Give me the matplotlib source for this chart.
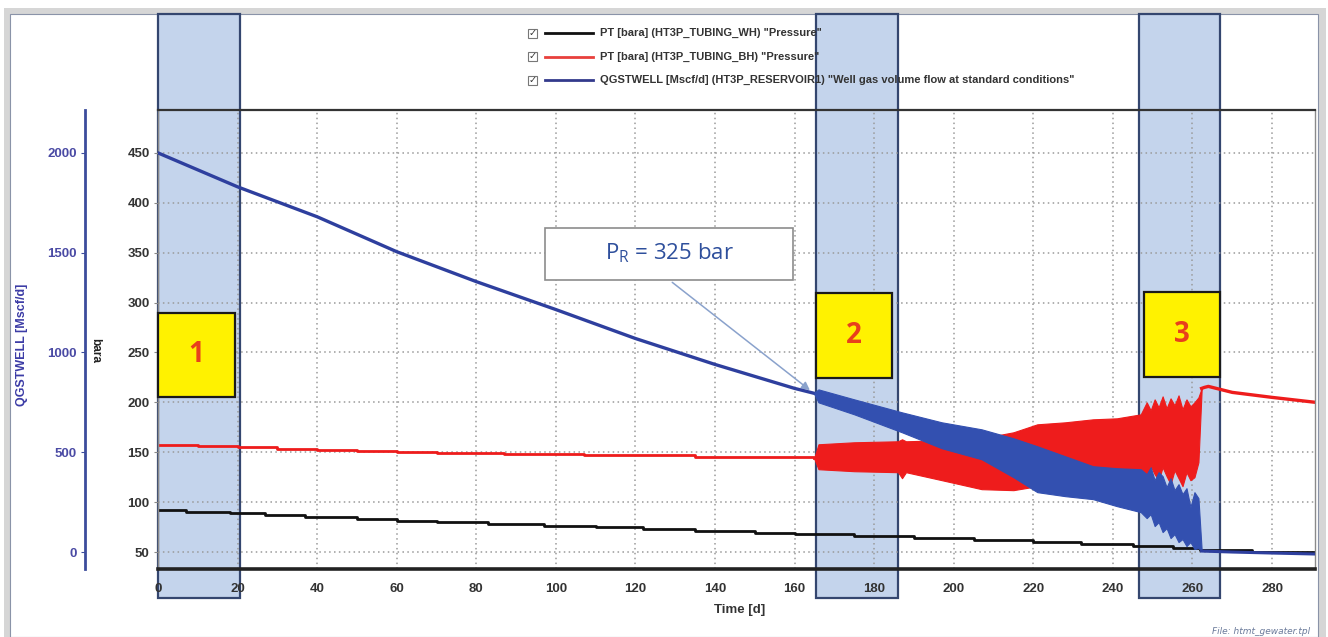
import matplotlib
matplotlib.use("Agg")
import matplotlib.pyplot as plt
from matplotlib.patches import Rectangle
from matplotlib.lines import Line2D
from matplotlib.transforms import blended_transform_factory

# wellhead tubing pressure [bara]
t_wh = [0, 7, 18, 27, 37, 50, 60, 70, 83, 97, 110, 122, 135, 150, 160, 175,
        190, 205, 220, 232, 245, 255, 262, 275, 291]
p_wh = [92, 90, 89, 87, 85, 83, 81, 80, 78, 76, 75, 73, 71, 69, 68, 66,
        64, 62, 60, 58, 56, 54, 52, 50, 48]

# bottomhole tubing pressure [bara], steady part
t_bh = [0, 10, 20, 30, 40, 50, 60, 70, 87, 107, 135, 150, 165]
p_bh = [157, 156, 155, 153, 152, 151, 150, 149, 148, 147, 145, 145, 144]
# bottomhole pressure, oscillating part (upper / lower envelope)
t_bh_osc = [165, 166, 175, 186, 187, 188, 197, 207, 215, 221, 228, 235, 241,
            247, 248.5, 249.5, 250.5, 251.5, 252.5, 253.5, 254.5, 255.5,
            256.5, 257.5, 258.5, 259.5, 260.5, 261.5, 262.3]
p_bh_hi = [145, 158, 160, 161, 163, 161, 162, 164, 170, 178, 180, 183, 184,
           188, 200, 192, 203, 195, 206, 194, 204, 197, 207, 193, 203, 196,
           200, 205, 214]
p_bh_lo = [143, 133, 131, 130, 124, 130, 122, 113, 112, 116, 120, 128, 130,
           133, 124, 136, 128, 122, 135, 126, 118, 132, 124, 116, 130, 122,
           125, 140, 212]
# bottomhole pressure after the well dies
t_bh_end = [262.3, 263, 264, 270, 280, 291]
p_bh_end = [214, 215, 216, 210, 205, 200]

# gas rate [Mscf/d]
t_q = [0, 20, 40, 60, 80, 100, 120, 140, 160, 165]
q_gas = [2000, 1830, 1680, 1505, 1355, 1215, 1070, 940, 820, 795]
t_q_osc = [165, 166, 175, 187, 197, 207, 215, 221, 228, 235, 241, 247, 248.5,
           249.5, 250.5, 251.5, 252.5, 253.5, 254.5, 255.5, 256.5, 257.5,
           258.5, 259.5, 260.5, 261.5, 262.3]
q_hi = [800, 815, 765, 700, 650, 615, 570, 530, 480, 430, 420, 415, 390, 425,
        360, 400, 380, 325, 370, 310, 340, 290, 320, 225, 300, 270, 15]
q_lo = [790, 750, 690, 600, 520, 465, 375, 300, 280, 265, 230, 200, 170, 190,
        130, 150, 100, 120, 70, 90, 50, 65, 30, 50, 15, 20, 5]
t_q_end = [262.3, 270, 280, 291]
q_end = [5, 0, -5, -10]

# highlighted periods [d] and their labels
periods = [(0, 20.6), (165.4, 186.0), (246.5, 266.9)]
period_labels = ["1", "2", "3"]
label_boxes = [(0, 19.4, 205, 290), (165.4, 184.5, 224, 310), (247.8, 266.9, 225, 311)]

legend_labels = ['PT [bara] (HT3P_TUBING_WH) "Pressure"',
                 'PT [bara] (HT3P_TUBING_BH) "Pressure"',
                 'QGSTWELL [Mscf/d] (HT3P_RESERVOIR1) "Well gas volume flow at standard conditions"']
legend_colors = ["#111111", "#e8403c", "#333a8c"]

W, H = 1328, 637
SANS = ["Liberation Sans", "DejaVu Sans"]


def fx(px):
    return px / W


def fy(py):
    return 1 - py / H


fig = plt.figure(figsize=(W / 100, H / 100), dpi=100)

# outer grey frame
fig.patches.append(Rectangle((fx(4), 0), fx(1326) - fx(4), fy(8), transform=fig.transFigure,
                             fc="#d6d6d6", ec="none", zorder=-3))
fig.patches.append(Rectangle((fx(10), 0), fx(1318) - fx(10), fy(14), transform=fig.transFigure,
                             fc="white", ec="#8a93a8", lw=0.8, zorder=-2))

ax = fig.add_axes([fx(158), fy(569), fx(1315) - fx(158), fy(110) - fy(569)])
ax.set_xlim(0, 290.8)
ax.set_ylim(33, 493)
ax.set_facecolor("none")

ax.set_xticks(range(0, 281, 20))
ax.set_yticks(range(50, 451, 50))
ax.grid(True, color="#9a9a9a", ls=(0, (1, 2.2)), lw=1.1)
ax.tick_params(axis="x", length=0, pad=10, labelsize=9.5, labelcolor="#333333")
ax.tick_params(axis="y", length=3, pad=3, labelsize=9.5, labelcolor="#333333", color="#888888")
for lab in ax.get_xticklabels() + ax.get_yticklabels():
    lab.set_family(SANS)
    lab.set_fontweight("bold")

for side in ["left", "right"]:
    ax.spines[side].set_color("#8a8a8a")
    ax.spines[side].set_linewidth(1)
ax.spines["top"].set_color("#333333")
ax.spines["top"].set_linewidth(1.6)
ax.spines["bottom"].set_color("#222222")
ax.spines["bottom"].set_linewidth(2.6)

# shaded periods reach from the top frame to below the tick labels
trans = blended_transform_factory(ax.transData, fig.transFigure)
for t0, t1 in periods:
    ax.add_patch(Rectangle((t0, fy(598)), t1 - t0, fy(14) - fy(598), transform=trans,
                           fc="#c4d4ec", ec="#34466f", lw=1.6, clip_on=False, zorder=0.5))

# pressures
ax.plot(t_wh, p_wh, color="#111111", lw=2, drawstyle="steps-post", zorder=2)
ax.plot(t_bh, p_bh, color="#ee1c1c", lw=2, drawstyle="steps-post", zorder=2)
ax.fill_between(t_bh_osc, p_bh_lo, p_bh_hi, color="#ee1c1c", lw=0.8, zorder=2)
ax.plot(t_bh_end, p_bh_end, color="#ee1c1c", lw=2.4, zorder=2)

# yellow period labels
for (t0, t1, y0, y1), lab in zip(label_boxes, period_labels):
    ax.add_patch(Rectangle((t0, y0), t1 - t0, y1 - y0, fc="#fff200", ec="#1a1a1a",
                           lw=1.6, zorder=3, clip_on=False))
    ax.text((t0 + t1) / 2, (y0 + y1) / 2, lab, ha="center", va="center", fontsize=20,
            fontweight="bold", color="#e8401c", family=["Open Sans", "DejaVu Sans"], zorder=4)

# reservoir pressure call-out
ax.add_patch(Rectangle((97.3, 323), 62.3, 52, fc="white", ec="#8c8c8c", lw=1.2, zorder=3))
ax.text(128.5, 349, "P$_\\mathregular{R}$ = 325 bar", ha="center", va="center", fontsize=16,
        color="#2e4f9c", family=["Open Sans", "DejaVu Sans"], zorder=4)
ax.annotate("", xy=(164.4, 210.5), xytext=(128.7, 322),
            arrowprops=dict(arrowstyle="-|>", color="#8aa2cc", lw=1.1, mutation_scale=12),
            zorder=3)

fig.text(fx(740), fy(610), "Time [d]", ha="center", va="center",
         fontsize=9.5, fontweight="bold", color="#333333", family=SANS)
fig.text(fx(95), fy(350), "bara", rotation=-90, ha="center", va="center", fontsize=8.5,
         fontweight="bold", color="#222222", family=SANS)

# gas rate on its own axis, spine moved to the far left
axq = ax.twinx()
axq.set_ylim(-85, 2215)
axq.set_yticks(range(0, 2001, 500))
axq.yaxis.set_ticks_position("left")
axq.yaxis.set_label_position("left")
axq.spines["left"].set_position(("axes", (85 - 158) / (1315 - 158)))
axq.spines["left"].set_color("#3c4c9c")
axq.spines["left"].set_linewidth(2)
for side in ["top", "bottom", "right"]:
    axq.spines[side].set_visible(False)
axq.tick_params(axis="y", length=3, pad=3, labelsize=9.5, labelcolor="#4a4aa4", color="#3c4c9c")
for lab in axq.get_yticklabels():
    lab.set_family(SANS)
    lab.set_fontweight("bold")

axq.plot(t_q, q_gas, color="#2e3f9e", lw=2.4, zorder=2)
axq.fill_between(t_q_osc, q_lo, q_hi, color="#3350b0", lw=0.8, zorder=2)
axq.plot(t_q_end, q_end, color="#2e3f9e", lw=2.2, zorder=2)

fig.text(fx(22), fy(345), "QGSTWELL [Mscf/d]", rotation=90, ha="center", va="center",
         fontsize=9, fontweight="bold", color="#3c3ca6", family=SANS)

# legend rows
for i, (lab, col) in enumerate(zip(legend_labels, legend_colors)):
    yy = fy(33 + 23.5 * i)
    fig.patches.append(Rectangle((fx(528), yy - 4.5 / H), 9 / W, 9 / H, transform=fig.transFigure,
                                 fc="white", ec="#777777", lw=0.8))
    fig.text(fx(532.5), yy, "\u2713", ha="center", va="center", fontsize=7,
             fontweight="bold", color="#333333")
    fig.lines.append(Line2D([fx(545), fx(593)], [yy, yy], transform=fig.transFigure,
                            color=col, lw=2))
    fig.text(fx(600), yy, lab, ha="left", va="center", fontsize=8, fontweight="bold",
             color="#333333", family=SANS)

fig.text(fx(1310), fy(631), "File: htmt_gewater.tpl", ha="right", va="center", fontsize=6.5,
         style="italic", color="#6a7a9a")

fig.savefig("out.png", dpi=100)
